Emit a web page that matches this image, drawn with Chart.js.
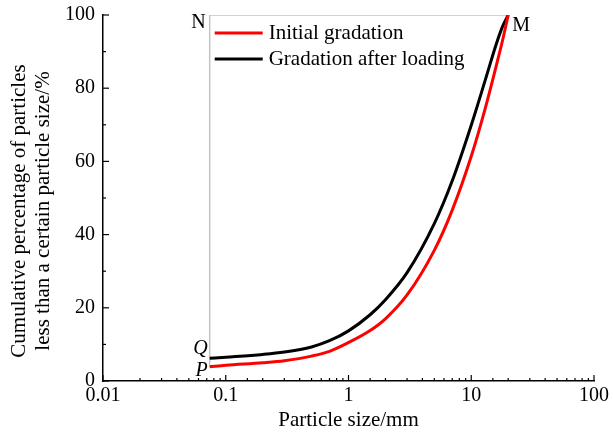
<!DOCTYPE html>
<html>
<head>
<meta charset="utf-8">
<script src="https://cdn.jsdelivr.net/npm/chart.js@4"></script>
<style>
  html, body { margin: 0; padding: 0; background: #fff; }
  #wrap { width: 613px; height: 433px; }
</style>
</head>
<body>
<div id="wrap"><canvas id="chart" width="613" height="433"></canvas></div>
<script>
// particle sizes (mm)
const sizes = [0.074, 0.1, 0.2, 0.3, 0.5, 0.7, 1, 1.5, 2, 3, 5, 7, 10, 13, 16, 18, 20];
const initialGradation = [3.9, 4.3, 5.0, 5.55, 6.8, 8.1, 10.5, 13.8, 17.0, 23.5, 35.7, 46.7, 61.4, 74.5, 86.2, 93.1, 100];
const afterLoading = [6.2, 6.5, 7.25, 7.9, 9.3, 11.0, 13.7, 18.1, 22.2, 29.6, 43, 54.7, 69.9, 82.2, 92.1, 96.9, 100];
// gray guide lines P -> N -> M
const guideX = [0.074, 0.074, 20];
const guideY = [3.9, 100, 100];
const xTickLabels = ['0.01', '0.1', '1', '10', '100'];
const yTitle = ['Cumulative percentage of particles', 'less than a certain particle size/%'];

const serif = '"Liberation Serif", "DejaVu Serif", serif';

function toPoints(xs, ys) {
  return xs.map((x, i) => ({ x: x, y: ys[i] }));
}

// ticks pointing into the plot, point labels, legend in the box, y title
const extras = {
  id: 'extras',
  afterDraw(chart) {
    const ctx = chart.ctx;
    const xs = chart.scales.x, ys = chart.scales.y;
    const area = chart.chartArea;
    ctx.save();
    ctx.strokeStyle = '#000';
    ctx.lineWidth = 1.2;
    xs.ticks.forEach(t => {
      const px = xs.getPixelForValue(t.value);
      const major = xTickLabels.indexOf(String(t.value)) >= 0;
      ctx.beginPath();
      ctx.moveTo(px, area.bottom);
      ctx.lineTo(px, area.bottom - (major ? 6 : 3));
      ctx.stroke();
    });
    ys.ticks.forEach(t => {
      const py = ys.getPixelForValue(t.value);
      const major = t.value % 20 === 0;
      ctx.beginPath();
      ctx.moveTo(area.left, py);
      ctx.lineTo(area.left + (major ? 6 : 3), py);
      ctx.stroke();
    });

    // point names
    ctx.fillStyle = '#000';
    ctx.textBaseline = 'middle';
    ctx.font = '20px ' + serif;
    ctx.textAlign = 'right';
    ctx.fillText('N', xs.getPixelForValue(guideX[1]) - 4, ys.getPixelForValue(100) + 8);
    ctx.textAlign = 'left';
    ctx.fillText('M', xs.getPixelForValue(20) + 4, ys.getPixelForValue(100) + 11);
    ctx.font = 'italic 20px ' + serif;
    ctx.textAlign = 'right';
    ctx.fillText('Q', xs.getPixelForValue(sizes[0]) - 2, ys.getPixelForValue(afterLoading[0]) - 10);
    ctx.fillText('P', xs.getPixelForValue(sizes[0]) - 2, ys.getPixelForValue(initialGradation[0]) + 4);

    // legend
    const lx = xs.getPixelForValue(guideX[1]) + 5;
    const ly = ys.getPixelForValue(100) + 18;
    chart.data.datasets.slice(0, 2).forEach((ds, i) => {
      const y = ly + i * 26;
      ctx.strokeStyle = ds.borderColor;
      ctx.lineWidth = 3;
      ctx.beginPath();
      ctx.moveTo(lx, y);
      ctx.lineTo(lx + 48, y);
      ctx.stroke();
      ctx.font = '21px ' + serif;
      ctx.textAlign = 'left';
      ctx.fillStyle = '#000';
      ctx.fillText(ds.label, lx + 54, y);
    });

    // y axis title, two lines, sits a bit below the axis centre
    ctx.font = '21px ' + serif;
    ctx.textAlign = 'center';
    ctx.fillStyle = '#000';
    ctx.translate(0, 211);
    ctx.rotate(-Math.PI / 2);
    ctx.fillText(yTitle[0], 0, 19);
    ctx.fillText(yTitle[1], 0, 43);
    ctx.restore();
  }
};

new Chart(document.getElementById('chart'), {
  type: 'scatter',
  data: {
    datasets: [
      {
        label: 'Initial gradation',
        data: toPoints(sizes, initialGradation),
        showLine: true,
        borderColor: '#ff0000',
        borderWidth: 3,
        pointRadius: 0,
        cubicInterpolationMode: 'monotone'
      },
      {
        label: 'Gradation after loading',
        data: toPoints(sizes, afterLoading),
        showLine: true,
        borderColor: '#000000',
        borderWidth: 3,
        pointRadius: 0,
        cubicInterpolationMode: 'monotone'
      },
      {
        label: 'guide',
        data: toPoints(guideX, guideY),
        showLine: true,
        borderColor: '#c4c4c4',
        borderWidth: 1.5,
        pointRadius: 0,
        tension: 0
      }
    ]
  },
  options: {
    responsive: false,
    animation: false,
    layout: { padding: { top: 15, right: 19, left: 0, bottom: 0 } },
    plugins: {
      legend: { display: false },
      tooltip: { enabled: false }
    },
    scales: {
      x: {
        type: 'logarithmic',
        min: 0.01,
        max: 100,
        afterFit: s => { s.height = 52; },
        grid: { display: false, drawTicks: false },
        border: { display: true, color: '#000', width: 1.5 },
        ticks: {
          autoSkip: false,
          maxRotation: 0,
          padding: 3,
          color: '#000',
          font: { family: serif, size: 20 },
          callback: v => {
            const s = String(v);
            return xTickLabels.indexOf(s) >= 0 ? s : '';
          }
        },
        title: {
          display: true,
          text: 'Particle size/mm',
          color: '#000',
          font: { family: serif, size: 21 },
          padding: { top: 1, bottom: 0 }
        }
      },
      y: {
        min: 0,
        max: 100,
        afterFit: s => { s.width = 103; s.paddingTop = 0; s.paddingBottom = 0; },
        grid: { display: false, drawTicks: false },
        border: { display: true, color: '#000', width: 1.5 },
        ticks: {
          stepSize: 10,
          padding: 8,
          color: '#000',
          font: { family: serif, size: 20 },
          callback: v => (v % 20 === 0 ? v : '')
        }
      }
    }
  },
  plugins: [extras]
});
</script>
</body>
</html>
